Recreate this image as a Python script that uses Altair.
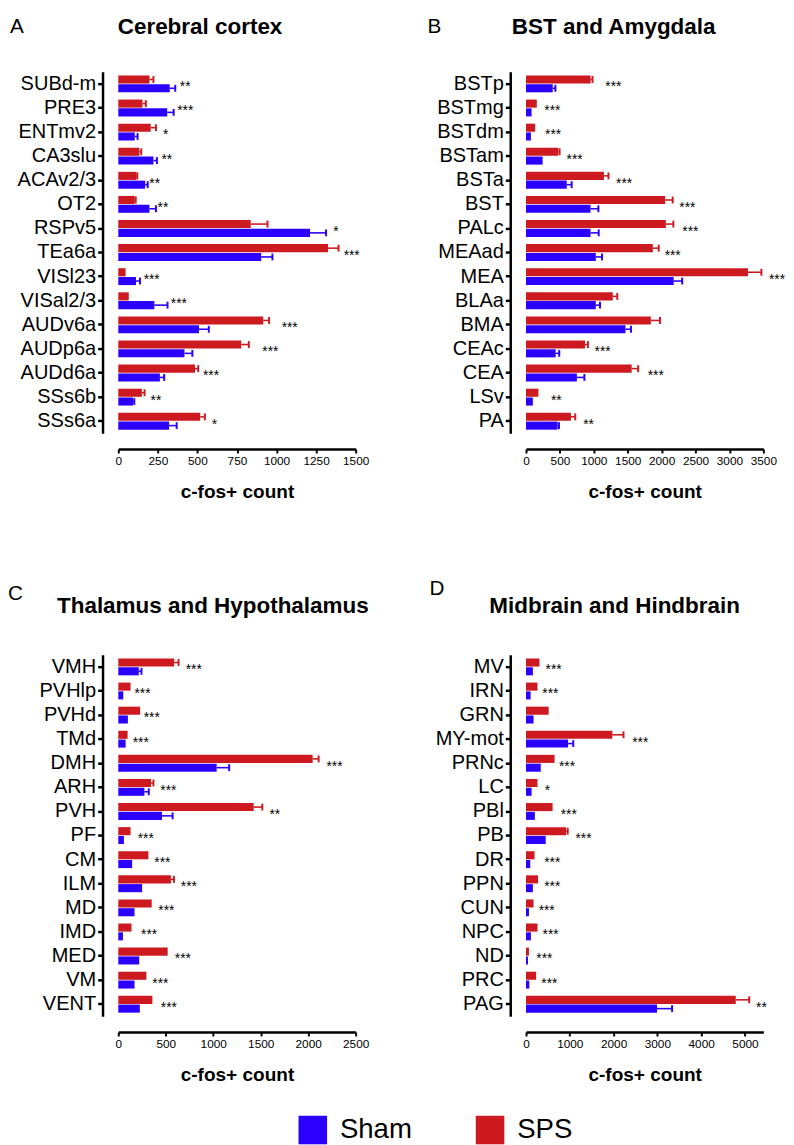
import altair as alt
import pandas as pd

BLUE = "#2B00FF"
RED = "#CD1A20"
FONT = "Liberation Sans"

# ---------------- Panel A: Cerebral cortex ----------------
regions_a = ["SUBd-m", "PRE3", "ENTmv2", "CA3slu", "ACAv2/3", "OT2", "RSPv5", "TEa6a",
             "VISl23", "VISal2/3", "AUDv6a", "AUDp6a", "AUDd6a", "SSs6b", "SSs6a"]
sps_a = [197, 153, 205, 133, 114, 104, 837, 1326, 46, 66, 916, 777, 485, 149, 518]
sps_err_a = [25, 21, 33, 12, 6, 6, 106, 66, 0, 0, 37, 48, 20, 17, 29]
sham_a = [325, 309, 104, 222, 170, 197, 1212, 903, 112, 228, 510, 418, 263, 93, 321]
sham_err_a = [35, 41, 18, 22, 16, 41, 101, 71, 25, 83, 62, 50, 27, 8, 48]
sig_a = ["**", "***", "*", "**", "**", "**", "*", "***", "***", "***", "***", "***", "***", "**", "*"]
sig_x_a = [423, 423, 300, 307, 230, 282, 1376, 1475, 211, 383, 1083, 961, 586, 238, 607]
ticks_a = [0, 250, 500, 750, 1000, 1250, 1500]

# ---------------- Panel B: BST and Amygdala ----------------
regions_b = ["BSTp", "BSTmg", "BSTdm", "BSTam", "BSTa", "BST", "PALc", "MEAad", "MEA",
             "BLAa", "BMA", "CEAc", "CEA", "LSv", "PA"]
sps_b = [952, 159, 135, 476, 1149, 2053, 2062, 1870, 3274, 1279, 1841, 870, 1558, 183, 663]
sps_err_b = [29, 0, 0, 19, 67, 110, 111, 87, 197, 67, 135, 43, 96, 0, 63]
sham_b = [394, 82, 72, 245, 601, 952, 952, 1029, 2178, 1029, 1466, 438, 750, 101, 466]
sham_err_b = [39, 0, 0, 0, 72, 115, 120, 91, 125, 62, 82, 52, 111, 0, 20]
sig_b = ["***", "***", "***", "***", "***", "***", "***", "***", "***", "", "", "***", "***", "**", "**"]
sig_x_b = [1288, 389, 399, 716, 1447, 2380, 2423, 2163, 3702, 0, 0, 1130, 1913, 447, 923]
ticks_b = [0, 500, 1000, 1500, 2000, 2500, 3000, 3500]

# ---------------- Panel C: Thalamus and Hypothalamus ----------------
regions_c = ["VMH", "PVHlp", "PVHd", "TMd", "DMH", "ARH", "PVH", "PF", "CM", "ILM",
             "MD", "IMD", "MED", "VM", "VENT"]
sps_c = [589, 129, 230, 98, 2047, 345, 1426, 129, 317, 554, 352, 139, 520, 296, 359]
sps_err_c = [46, 0, 0, 0, 63, 25, 91, 0, 0, 32, 0, 0, 0, 0, 0]
sham_c = [216, 52, 101, 77, 1036, 275, 460, 59, 146, 251, 171, 49, 220, 171, 227]
sham_err_c = [28, 0, 0, 0, 132, 46, 112, 0, 0, 0, 0, 0, 0, 0, 0]
sig_c = ["***", "***", "***", "***", "***", "***", "**", "***", "***", "***", "***", "***", "***", "***", "***"]
sig_x_c = [795, 255, 352, 237, 2277, 527, 1649, 289, 464, 743, 506, 324, 680, 443, 533]
ticks_c = [0, 500, 1000, 1500, 2000, 2500]

# ---------------- Panel D: Midbrain and Hindbrain ----------------
regions_d = ["MV", "IRN", "GRN", "MY-mot", "PRNc", "LC", "PBl", "PB", "DR", "PPN",
             "CUN", "NPC", "ND", "PRC", "PAG"]
sps_d = [307, 262, 517, 1972, 652, 262, 607, 915, 195, 277, 172, 262, 67, 232, 4790]
sps_err_d = [0, 0, 0, 254, 0, 0, 0, 37, 0, 0, 0, 0, 0, 0, 307]
sham_d = [157, 105, 172, 960, 337, 127, 202, 450, 97, 157, 67, 112, 45, 75, 2991]
sham_err_d = [0, 0, 0, 119, 0, 0, 0, 0, 0, 0, 0, 0, 0, 0, 345]
sig_d = ["***", "***", "", "***", "***", "*", "***", "***", "***", "***", "***", "***", "***", "***", "**"]
sig_x_d = [630, 555, 0, 2609, 937, 487, 975, 1312, 600, 600, 472, 562, 420, 532, 5375]
ticks_d = [0, 1000, 2000, 3000, 4000, 5000]

groups = ["Sham", "SPS"]
colors = [BLUE, RED]

W, H = 241, 367


def make_df(regions, sps, sps_err, sham, sham_err):
    rows = []
    for i, r in enumerate(regions):
        rows.append({"region": r, "group": "SPS", "value": sps[i], "err": sps_err[i]})
        rows.append({"region": r, "group": "Sham", "value": sham[i], "err": sham_err[i]})
    df = pd.DataFrame(rows)
    df["hi"] = df["value"] + df["err"]
    return df


def panel(letter, title, regions, sps, sps_err, sham, sham_err, sig, sig_x, xmax, ticks,
          letter_pos, title_pos):
    df = make_df(regions, sps, sps_err, sham, sham_err)
    sig_df = pd.DataFrame({"region": regions, "sig": sig, "sx": sig_x})
    sig_df = sig_df[sig_df["sig"] != ""]

    yaxis = alt.Axis(title=None, labelFont=FONT, labelFontSize=20.3, labelColor="black",
                     labelPadding=2, tickSize=5, tickWidth=2.5, tickColor="black",
                     domainColor="black", domainWidth=2.5, offset=16, grid=False)
    xaxis = alt.Axis(values=ticks, format="d", title="c-fos+ count", titleFont=FONT,
                     titleFontSize=19.3, titleFontWeight="bold", titleColor="black",
                     titlePadding=16, labelFont=FONT, labelFontSize=12, labelColor="black",
                     labelPadding=3, tickSize=4, tickWidth=2, tickColor="black",
                     domainColor="black", domainWidth=2.5, offset=16, grid=False,
                     labelFlush=False, labelOverlap=False)
    xscale = alt.Scale(domain=[0, xmax], nice=False, zero=True)
    yscale = alt.Scale(paddingInner=0.3, paddingOuter=0.15)

    y = alt.Y("region:N", sort=regions, scale=yscale, axis=yaxis)
    yoff = alt.YOffset("group:N", sort=["SPS", "Sham"],
                       scale=alt.Scale(domain=["SPS", "Sham"], paddingInner=0.08))
    color = alt.Color("group:N", scale=alt.Scale(domain=groups, range=colors),
                      legend=alt.Legend(orient="none", legendX=183, legendY=1060,
                                        direction="horizontal", title=None,
                                        symbolType="square", symbolSize=841,
                                        symbolStrokeWidth=0, symbolOpacity=1,
                                        labelFont=FONT, labelFontSize=28,
                                        labelColor="black", labelOffset=13,
                                        columnPadding=64, padding=0))

    base = alt.Chart(df).encode(y=y, yOffset=yoff, color=color)
    bars = base.mark_bar().encode(x=alt.X("value:Q", scale=xscale, axis=xaxis))
    err = base.transform_filter("datum.err > 0")
    rules = err.mark_rule(strokeWidth=1.6).encode(
        x=alt.X("value:Q", scale=xscale, axis=xaxis), x2="hi:Q")
    caps = err.mark_tick(thickness=2, size=7, opacity=1).encode(
        x=alt.X("hi:Q", scale=xscale, axis=xaxis))
    stars = alt.Chart(sig_df).mark_text(font=FONT, fontSize=14, color="black",
                                        align="center", baseline="alphabetic", dy=7.5).encode(
        x=alt.X("sx:Q", scale=xscale, axis=xaxis),
        y=alt.Y("region:N", sort=regions, scale=yscale, axis=yaxis),
        text="sig:N")
    letter_t = alt.Chart(pd.DataFrame({"t": [letter]})).mark_text(
        font=FONT, fontSize=21, align="left", baseline="top", color="black").encode(
        x=alt.value(letter_pos[0]), y=alt.value(letter_pos[1]), text="t:N")
    title_t = alt.Chart(pd.DataFrame({"t": [title]})).mark_text(
        font=FONT, fontSize=22.8, fontWeight="bold", align="center", baseline="alphabetic",
        color="black").encode(
        x=alt.value(title_pos[0]), y=alt.value(title_pos[1]), text="t:N")
    return alt.layer(bars, rules, caps, stars, letter_t, title_t).properties(width=W, height=H)


pa = panel("A", "Cerebral cortex", regions_a, sps_a, sps_err_a, sham_a, sham_err_a,
           sig_a, sig_x_a, 1500, ticks_a, (-110, -56), (83, -38))
pb = panel("B", "BST and Amygdala", regions_b, sps_b, sps_err_b, sham_b, sham_err_b,
           sig_b, sig_x_b, 3500, ticks_b, (-100, -56), (89, -38))
pc = panel("C", "Thalamus and Hypothalamus", regions_c, sps_c, sps_err_c, sham_c, sham_err_c,
           sig_c, sig_x_c, 2500, ticks_c, (-112, -73), (96, -42))
pd_ = panel("D", "Midbrain and Hindbrain", regions_d, sps_d, sps_err_d, sham_d, sham_err_d,
            sig_d, sig_x_d, 5420, ticks_d, (-98, -78), (90, -43))

chart = alt.concat(pa, pb, pc, pd_, columns=2,
                   spacing=alt.RowColnumber(row=225, column=173),
                   bounds="flush").properties(
    padding=0
).configure_view(strokeWidth=0, stroke="transparent")

chart.save("out.html", embed_options={"renderer": "svg", "actions": False})
